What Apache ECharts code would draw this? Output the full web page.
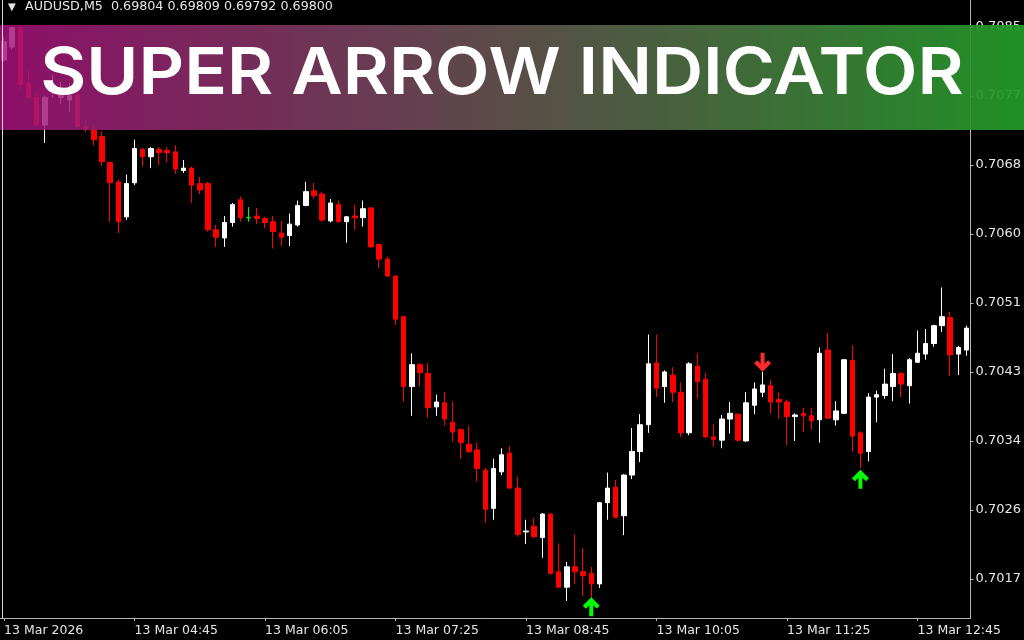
<!DOCTYPE html>
<html>
<head>
<meta charset="utf-8">
<title>Super Arrow Indicator</title>
<script src="https://cdn.jsdelivr.net/npm/echarts@6/dist/echarts.min.js"></script>
<style>
html, body { margin: 0; padding: 0; background: #000; }
#main { width: 1024px; height: 640px; }
</style>
</head>
<body>
<div id="main"></div>
<script>
// AUDUSD M5 bars: [open, close, low, high]
var candles = [
    [0.70810, 0.70833, 0.70808, 0.70838],
    [0.70826, 0.70850, 0.70823, 0.70851],
    [0.70850, 0.70780, 0.70773, 0.70851],
    [0.70782, 0.70764, 0.70761, 0.70798],
    [0.70764, 0.70730, 0.70728, 0.70770],
    [0.70730, 0.70764, 0.70708, 0.70767],
    [0.70776, 0.70780, 0.70764, 0.70792],
    [0.70764, 0.70773, 0.70756, 0.70783],
    [0.70761, 0.70766, 0.70746, 0.70782],
    [0.70767, 0.70728, 0.70727, 0.70773],
    [0.70728, 0.70725, 0.70721, 0.70737],
    [0.70724, 0.70712, 0.70705, 0.70730],
    [0.70716, 0.70685, 0.70680, 0.70722],
    [0.70684, 0.70659, 0.70611, 0.70685],
    [0.70660, 0.70611, 0.70597, 0.70663],
    [0.70617, 0.70658, 0.70613, 0.70669],
    [0.70659, 0.70701, 0.70656, 0.70712],
    [0.70700, 0.70691, 0.70679, 0.70702],
    [0.70691, 0.70701, 0.70677, 0.70703],
    [0.70700, 0.70696, 0.70681, 0.70703],
    [0.70699, 0.70696, 0.70684, 0.70703],
    [0.70697, 0.70676, 0.70670, 0.70705],
    [0.70674, 0.70677, 0.70671, 0.70687],
    [0.70677, 0.70656, 0.70634, 0.70679],
    [0.70658, 0.70650, 0.70645, 0.70666],
    [0.70658, 0.70601, 0.70599, 0.70660],
    [0.70601, 0.70592, 0.70580, 0.70607],
    [0.70591, 0.70610, 0.70580, 0.70618],
    [0.70610, 0.70632, 0.70605, 0.70634],
    [0.70638, 0.70616, 0.70611, 0.70642],
    [0.70616, 0.70616, 0.70611, 0.70629],
    [0.70618, 0.70615, 0.70608, 0.70628],
    [0.70615, 0.70610, 0.70603, 0.70617],
    [0.70611, 0.70599, 0.70578, 0.70618],
    [0.70597, 0.70592, 0.70581, 0.70612],
    [0.70594, 0.70608, 0.70581, 0.70621],
    [0.70607, 0.70631, 0.70605, 0.70637],
    [0.70631, 0.70648, 0.70630, 0.70660],
    [0.70649, 0.70643, 0.70639, 0.70659],
    [0.70645, 0.70613, 0.70611, 0.70648],
    [0.70612, 0.70634, 0.70610, 0.70639],
    [0.70632, 0.70611, 0.70610, 0.70637],
    [0.70611, 0.70617, 0.70585, 0.70618],
    [0.70618, 0.70616, 0.70601, 0.70632],
    [0.70616, 0.70627, 0.70605, 0.70637],
    [0.70628, 0.70580, 0.70579, 0.70629],
    [0.70583, 0.70565, 0.70554, 0.70584],
    [0.70565, 0.70544, 0.70543, 0.70568],
    [0.70544, 0.70491, 0.70484, 0.70545],
    [0.70494, 0.70408, 0.70389, 0.70495],
    [0.70408, 0.70435, 0.70372, 0.70449],
    [0.70435, 0.70425, 0.70408, 0.70437],
    [0.70424, 0.70382, 0.70369, 0.70437],
    [0.70383, 0.70389, 0.70372, 0.70398],
    [0.70388, 0.70368, 0.70360, 0.70401],
    [0.70364, 0.70352, 0.70340, 0.70390],
    [0.70355, 0.70339, 0.70319, 0.70356],
    [0.70337, 0.70328, 0.70326, 0.70360],
    [0.70330, 0.70307, 0.70291, 0.70339],
    [0.70305, 0.70257, 0.70240, 0.70308],
    [0.70258, 0.70307, 0.70244, 0.70319],
    [0.70303, 0.70324, 0.70299, 0.70332],
    [0.70326, 0.70283, 0.70282, 0.70335],
    [0.70283, 0.70226, 0.70223, 0.70297],
    [0.70229, 0.70230, 0.70214, 0.70244],
    [0.70236, 0.70223, 0.70222, 0.70246],
    [0.70222, 0.70251, 0.70197, 0.70252],
    [0.70251, 0.70178, 0.70176, 0.70252],
    [0.70180, 0.70161, 0.70160, 0.70215],
    [0.70161, 0.70186, 0.70144, 0.70192],
    [0.70186, 0.70180, 0.70165, 0.70226],
    [0.70180, 0.70175, 0.70150, 0.70209],
    [0.70178, 0.70165, 0.70146, 0.70186],
    [0.70165, 0.70265, 0.70160, 0.70266],
    [0.70265, 0.70283, 0.70244, 0.70302],
    [0.70284, 0.70247, 0.70246, 0.70293],
    [0.70249, 0.70299, 0.70225, 0.70300],
    [0.70299, 0.70328, 0.70294, 0.70357],
    [0.70328, 0.70361, 0.70315, 0.70374],
    [0.70361, 0.70436, 0.70351, 0.70472],
    [0.70437, 0.70406, 0.70395, 0.70472],
    [0.70408, 0.70426, 0.70388, 0.70428],
    [0.70422, 0.70401, 0.70389, 0.70432],
    [0.70401, 0.70351, 0.70346, 0.70413],
    [0.70351, 0.70436, 0.70348, 0.70438],
    [0.70433, 0.70414, 0.70393, 0.70449],
    [0.70417, 0.70346, 0.70345, 0.70425],
    [0.70346, 0.70343, 0.70334, 0.70362],
    [0.70342, 0.70368, 0.70332, 0.70373],
    [0.70368, 0.70375, 0.70350, 0.70389],
    [0.70374, 0.70342, 0.70340, 0.70375],
    [0.70341, 0.70388, 0.70340, 0.70401],
    [0.70385, 0.70405, 0.70374, 0.70413],
    [0.70401, 0.70410, 0.70395, 0.70426],
    [0.70409, 0.70389, 0.70375, 0.70416],
    [0.70392, 0.70389, 0.70368, 0.70401],
    [0.70389, 0.70371, 0.70336, 0.70392],
    [0.70371, 0.70373, 0.70341, 0.70375],
    [0.70375, 0.70372, 0.70352, 0.70382],
    [0.70372, 0.70366, 0.70355, 0.70382],
    [0.70367, 0.70449, 0.70339, 0.70456],
    [0.70453, 0.70369, 0.70368, 0.70474],
    [0.70367, 0.70378, 0.70360, 0.70390],
    [0.70375, 0.70441, 0.70374, 0.70442],
    [0.70440, 0.70347, 0.70328, 0.70459],
    [0.70351, 0.70326, 0.70308, 0.70353],
    [0.70328, 0.70395, 0.70316, 0.70400],
    [0.70395, 0.70398, 0.70364, 0.70403],
    [0.70397, 0.70411, 0.70393, 0.70430],
    [0.70408, 0.70424, 0.70390, 0.70448],
    [0.70424, 0.70411, 0.70395, 0.70426],
    [0.70409, 0.70441, 0.70387, 0.70443],
    [0.70438, 0.70449, 0.70437, 0.70477],
    [0.70448, 0.70461, 0.70441, 0.70479],
    [0.70461, 0.70483, 0.70457, 0.70484],
    [0.70483, 0.70494, 0.70475, 0.70530],
    [0.70493, 0.70447, 0.70421, 0.70500],
    [0.70448, 0.70456, 0.70422, 0.70458],
    [0.70453, 0.70480, 0.70446, 0.70483]
];

// indicator arrows: [bar index, price]
var upArrows = [[72, 0.70137], [105, 0.70294]];
var downArrows = [[93, 0.70438]];

// price scale labels on the right
var priceTicks = [0.70171, 0.70256, 0.70341, 0.70426, 0.70511, 0.70596, 0.70681, 0.70766, 0.70851];

var dayLabel = '13 Mar 2026';
var startMinutes = 3 * 60 + 25; // first bar 03:25

// bar times (5 minute bars)
var times = [];
for (var i = 0; i < candles.length; i++) {
    var m = startMinutes + i * 5;
    var hh = Math.floor(m / 60), mm = m % 60;
    times.push((hh < 10 ? '0' : '') + hh + ':' + (mm < 10 ? '0' : '') + mm);
}

var arrowPath = 'path://M8.5,0 L17,8.5 L14,11.5 L10.5,8 L10.5,19 L6.5,19 L6.5,8 L3,11.5 L0,8.5 Z';
var axisColor = '#b8b8b8';
var textColor = '#e6e6e6';
var font = 'DejaVu Sans';

var chart = echarts.init(document.getElementById('main'));

var option = {
    backgroundColor: '#000',
    animation: false,
    grid: {
        left: -1,
        right: 52,
        top: 0,
        bottom: 22
    },
    xAxis: {
        type: 'category',
        data: times,
        boundaryGap: true,
        axisLine: { show: true, lineStyle: { color: axisColor, width: 1 } },
        axisTick: {
            show: true,
            alignWithLabel: true,
            interval: 15,
            length: 3,
            lineStyle: { color: axisColor }
        },
        axisLabel: {
            interval: 15,
            align: 'left',
            margin: 6,
            color: textColor,
            fontFamily: font,
            fontSize: 12.5,
            formatter: function (v, idx) {
                return idx === 0 ? dayLabel : '13 Mar ' + v;
            }
        },
        splitLine: { show: false }
    },
    yAxis: {
        type: 'value',
        position: 'right',
        min: 0.70123,
        max: 0.70884,
        axisLine: { show: true, lineStyle: { color: axisColor, width: 1 } },
        axisTick: {
            show: true,
            length: 3,
            customValues: priceTicks,
            lineStyle: { color: axisColor }
        },
        axisLabel: {
            customValues: priceTicks,
            margin: 5,
            color: textColor,
            fontFamily: font,
            fontSize: 13,
            formatter: function (v) {
                return v.toFixed(4);
            }
        },
        splitLine: { show: false }
    },
    series: [
        {
            name: 'AUDUSD',
            type: 'candlestick',
            data: candles,
            barWidth: 5,
            silent: true,
            itemStyle: {
                color: '#ffffff',
                color0: '#ff0000',
                borderColor: '#ffffff',
                borderColor0: '#ff0000',
                borderColorDoji: '#00ff00',
                borderWidth: 1
            }
        },
        {
            name: 'buy',
            type: 'scatter',
            data: upArrows,
            symbol: arrowPath,
            symbolSize: [17, 19],
            silent: true,
            itemStyle: { color: '#00ff00', opacity: 1 },
            z: 5
        },
        {
            name: 'sell',
            type: 'scatter',
            data: downArrows,
            symbol: arrowPath,
            symbolSize: [17, 19],
            symbolRotate: 180,
            silent: true,
            itemStyle: { color: '#ff2a2a', opacity: 1 },
            z: 5
        }
    ],
    graphic: [
        // title banner
        {
            type: 'rect',
            shape: { x: 0, y: 25, width: 1024, height: 105 },
            style: {
                fill: new echarts.graphic.LinearGradient(0, 0, 1, 0, [
                    { offset: 0, color: 'rgba(168,18,124,0.84)' },
                    { offset: 1, color: 'rgba(34,155,40,0.93)' }
                ])
            },
            silent: true,
            z: 10
        },
        {
            type: 'text',
            x: 502,
            y: 74,
            scaleX: 1.09,
            style: {
                text: 'SUPER ARROW INDICATOR',
                x: 0,
                y: 0,
                textAlign: 'center',
                textVerticalAlign: 'middle',
                fill: '#ffffff',
                font: '600 65px Inter'
            },
            silent: true,
            z: 11
        },
        // left window border
        {
            type: 'line',
            shape: { x1: 2.5, y1: 0, x2: 2.5, y2: 618 },
            style: { stroke: '#d8d8d8', lineWidth: 1 },
            silent: true,
            z: 12
        },
        // symbol header
        {
            type: 'text',
            x: 8,
            y: 7,
            style: {
                text: '\u25BC',
                textVerticalAlign: 'middle',
                fill: textColor,
                font: '10px "DejaVu Sans"'
            },
            silent: true,
            z: 12
        },
        {
            type: 'text',
            x: 25,
            y: 7,
            style: {
                text: 'AUDUSD,M5  0.69804 0.69809 0.69792 0.69800',
                textVerticalAlign: 'middle',
                fill: textColor,
                font: '12.7px "DejaVu Sans"'
            },
            silent: true,
            z: 12
        }
    ]
};

chart.setOption(option);
</script>
</body>
</html>
